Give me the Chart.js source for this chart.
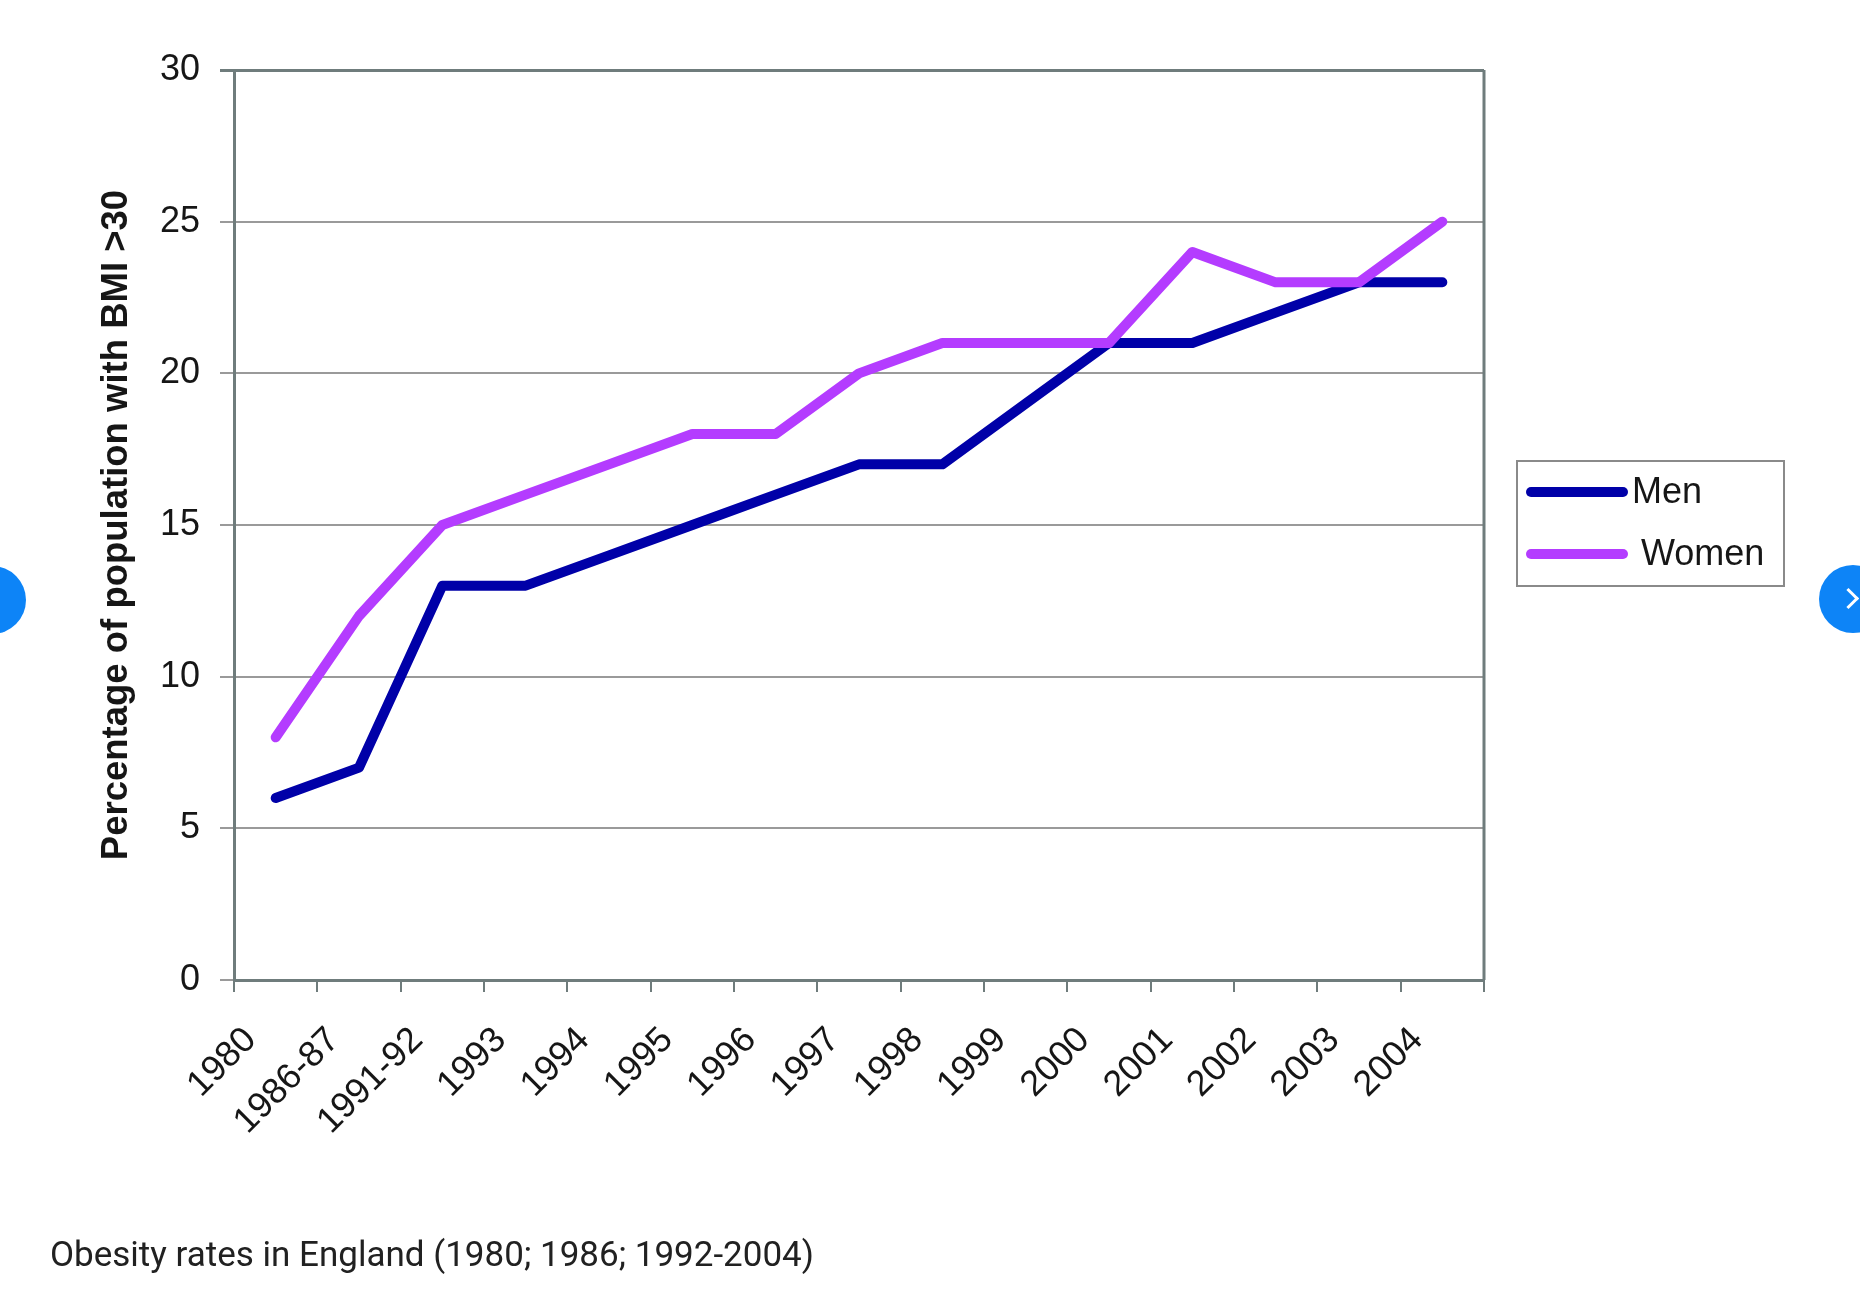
<!DOCTYPE html>
<html lang="en">
<head>
    <meta charset="UTF-8">
    <title>Obesity rates in England</title>
    <style>
        html, body {
            margin: 0;
            padding: 0;
            background: #fff;
            width: 1860px;
            height: 1302px;
            overflow: hidden;
            position: relative;
        }

        #chart {
            position: absolute;
            left: 0;
            top: 0;
        }

        /* figure caption under the chart */
        .caption {
            position: absolute;
            left: 50px;
            top: 1234px;
            font-family: Roboto, sans-serif;
            font-size: 35px;
            color: #212121;
            white-space: nowrap;
        }

        /* carousel arrows at the page edges */
        .nav {
            position: absolute;
            width: 68px;
            height: 68px;
            border-radius: 50%;
            background: #0d84f7;
        }
        .nav.left { left: -42px; top: 566px; }
        .nav.right { left: 1819px; top: 565px; }
        .nav.right::after {
            content: '';
            position: absolute;
            left: 22px;
            top: 26px;
            width: 12px;
            height: 12px;
            border-top: 3px solid #fff;
            border-right: 3px solid #fff;
            transform: rotate(45deg);
        }
    </style>
    <script src="https://cdn.jsdelivr.net/npm/chart.js"></script>
</head>
<body>
    <canvas id="chart" width="1860" height="1302"></canvas>
    <div class="caption">Obesity rates in England (1980; 1986; 1992-2004)</div>
    <div class="nav left"></div>
    <div class="nav right"></div>

    <script>
        // Categories (survey years) and values
        const categories = ['1980', '1986-87', '1991-92', '1993', '1994', '1995', '1996', '1997',
                            '1998', '1999', '2000', '2001', '2002', '2003', '2004'];
        const menValues = [6, 7, 13, 13, 14, 15, 16, 17, 17, 19, 21, 21, 22, 23, 23];
        const womenValues = [8, 12, 15, 16, 17, 18, 18, 20, 21, 21, 21, 24, 23, 23, 25];
        const yMin = 0;
        const yMax = 30;
        const yStep = 5;

        const axisColor = '#6f7c7c';
        const gridColor = '#9a9a9a';
        const textColor = '#161616';

        // Right-hand frame line of the plot area
        const framePlugin = {
            id: 'frame',
            beforeDatasetsDraw(chart) {
                const ctx = chart.ctx;
                const a = chart.chartArea;
                ctx.save();
                ctx.strokeStyle = axisColor;
                ctx.lineWidth = 3;
                ctx.beginPath();
                ctx.moveTo(a.right, a.top);
                ctx.lineTo(a.right, a.bottom);
                ctx.stroke();
                ctx.restore();
            }
        };

        // Boxed legend to the right of the plot
        const boxLegendPlugin = {
            id: 'boxLegend',
            afterDraw(chart) {
                const ctx = chart.ctx;
                const left = 1517, top = 461, width = 267, height = 125;
                ctx.save();
                ctx.strokeStyle = '#8a8a8a';
                ctx.lineWidth = 2;
                ctx.strokeRect(left, top, width, height);

                ctx.font = '36px "Liberation Sans", Arial, sans-serif';
                ctx.fillStyle = textColor;
                ctx.textBaseline = 'middle';
                chart.data.datasets.forEach((ds, i) => {
                    const y = top + 31 + i * 62;
                    ctx.strokeStyle = ds.borderColor;
                    ctx.lineWidth = 10;
                    ctx.lineCap = 'round';
                    ctx.beginPath();
                    ctx.moveTo(left + 14, y);
                    ctx.lineTo(left + 106, y);
                    ctx.stroke();
                    ctx.fillText(ds.label, left + 115 + i * 9, y + 1);
                });
                ctx.restore();
            }
        };

        new Chart(document.getElementById('chart'), {
            type: 'line',
            data: {
                labels: categories,
                datasets: [
                    {
                        label: 'Men',
                        data: menValues,
                        borderColor: '#0000a8',
                        borderWidth: 10,
                        order: 1
                    },
                    {
                        label: 'Women',
                        data: womenValues,
                        borderColor: '#b43cff',
                        borderWidth: 10,
                        order: 0
                    }
                ]
            },
            options: {
                responsive: false,
                animation: false,
                devicePixelRatio: 1,
                layout: {
                    padding: { left: 93, top: 70, right: 376, bottom: 122 }
                },
                elements: {
                    point: { radius: 0 },
                    line: {
                        tension: 0,
                        borderCapStyle: 'round',
                        borderJoinStyle: 'round',
                        fill: false
                    }
                },
                plugins: {
                    legend: { display: false },
                    tooltip: { enabled: false }
                },
                scales: {
                    x: {
                        type: 'category',
                        offset: true,
                        afterFit(scale) { scale.height = 200; },
                        grid: {
                            offset: true,
                            drawOnChartArea: false,
                            drawTicks: true,
                            tickLength: 12,
                            color: axisColor,
                            lineWidth: 2
                        },
                        border: { display: true, color: axisColor, width: 3 },
                        ticks: {
                            autoSkip: false,
                            minRotation: 45,
                            maxRotation: 45,
                            padding: 27,
                            labelOffset: -25,
                            color: textColor,
                            font: { family: '"Liberation Sans", Arial, sans-serif', size: 36 }
                        }
                    },
                    y: {
                        min: yMin,
                        max: yMax,
                        afterFit(scale) { scale.width = 141; },
                        grid: {
                            drawTicks: true,
                            tickLength: 14,
                            color: ctx => (ctx.tick && ctx.tick.value === yMax) ? axisColor : gridColor,
                            lineWidth: ctx => (ctx.tick && ctx.tick.value === yMax) ? 3 : 2
                        },
                        border: { display: true, color: axisColor, width: 3 },
                        ticks: {
                            stepSize: yStep,
                            padding: 20,
                            color: textColor,
                            font: { family: '"Liberation Sans", Arial, sans-serif', size: 36 }
                        },
                        title: {
                            display: true,
                            text: 'Percentage of population with BMI >30',
                            color: textColor,
                            padding: { top: 2, bottom: 0 },
                            font: { family: '"Liberation Sans", Arial, sans-serif', size: 36.5, weight: 'bold' }
                        }
                    }
                }
            },
            plugins: [framePlugin, boxLegendPlugin]
        });
    </script>
</body>
</html>
